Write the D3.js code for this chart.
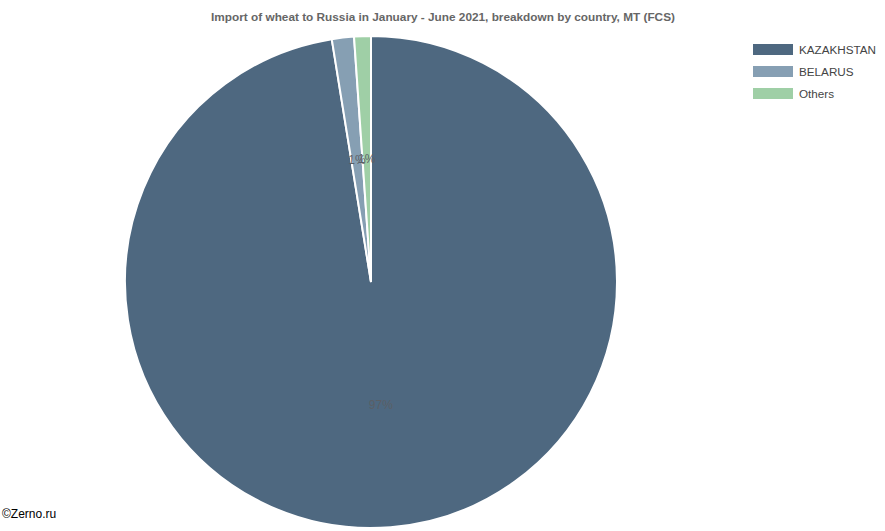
<!DOCTYPE html>
<html><head><meta charset="utf-8">
<script src="https://cdn.jsdelivr.net/npm/d3@7"></script>
<style>body{margin:0;background:#fff;font-family:Arial,"Liberation Sans",sans-serif;}</style>
</head><body>
<svg id="c" width="885" height="531"></svg>
<script>
const categories = ["KAZAKHSTAN", "BELARUS", "Others"];
const values = [97.45, 1.45, 1.1];
const colors = ["#4e6880", "#869fb3", "#9fcfa6"];
const title = "Import of wheat to Russia in January - June 2021, breakdown by country, MT (FCS)";

const svg = d3.select("#c");
const cx = 371, cy = 282, r = 246;

svg.append("text").attr("x", 443).attr("y", 21).attr("text-anchor", "middle")
  .attr("font-size", 11.8).attr("font-weight", "bold").attr("fill", "#666").text(title);

const data = categories.map((c, i) => ({c, v: values[i], col: colors[i]}));
const pie = d3.pie().value(d => d.v).sort(null);
const arcs = pie(data);
const total = d3.sum(values);
const arc = d3.arc().innerRadius(0).outerRadius(r);
const labelArc = d3.arc().innerRadius(r * 0.5).outerRadius(r * 0.5);

const g = svg.append("g").attr("transform", `translate(${cx},${cy})`);
g.selectAll("path").data(arcs).join("path")
  .attr("d", arc).attr("fill", d => d.data.col)
  .attr("stroke", "#fff").attr("stroke-width", 2);
g.selectAll("text").data(arcs).join("text")
  .attr("transform", d => `translate(${labelArc.centroid(d)})`)
  .attr("text-anchor", "middle").attr("dy", "0.35em")
  .attr("font-size", 12).attr("fill", "#5a5f66")
  .text(d => Math.floor(d.data.v / total * 100) + "%");

const lg = svg.append("g").attr("transform", "translate(753,44)");
const items = lg.selectAll("g").data(data).join("g")
  .attr("transform", (d, i) => `translate(0,${i * 22})`);
items.append("rect").attr("width", 40).attr("height", 11).attr("fill", d => d.col);
items.append("text").attr("x", 46).attr("y", 10).attr("font-size", 11.7)
  .attr("fill", "#444").text(d => d.c);

svg.append("text").attr("x", 2).attr("y", 518).attr("font-size", 12)
  .attr("fill", "#000").text("©Zerno.ru");
</script>
</body></html>
